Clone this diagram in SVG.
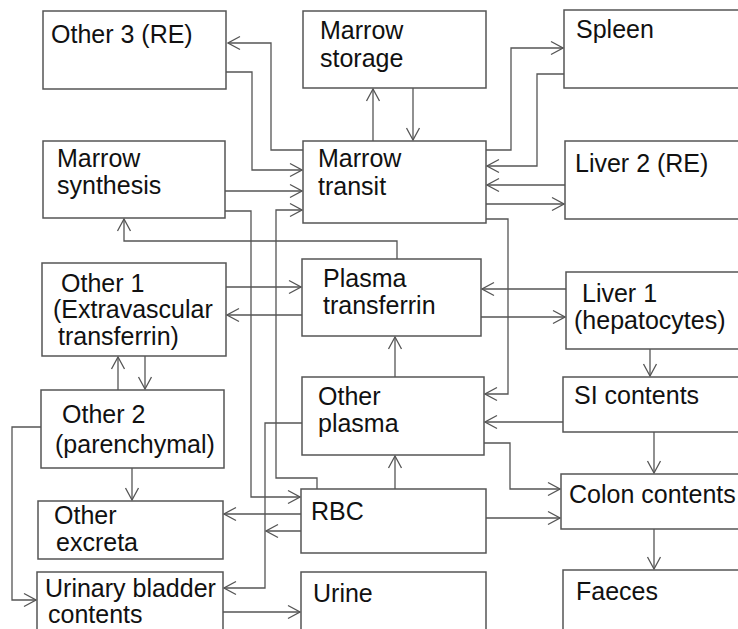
<svg xmlns="http://www.w3.org/2000/svg" width="738" height="629" viewBox="0 0 738 629">
  <style>
    .box { fill: #ffffff; stroke: #555555; stroke-width: 1.5; }
    .lbl { font-family: "Liberation Sans", Arial, sans-serif; font-size: 25px; fill: #111111; }
    .wire { fill: none; stroke: #555555; stroke-width: 1.3; }
    .arr { marker-end: url(#head); }
  </style>
  <defs>
    <marker id="head" viewBox="-13 -8 14 16" refX="0" refY="0" markerWidth="14" markerHeight="16" markerUnits="userSpaceOnUse" orient="auto">
      <path d="M-12,-6.5 L0,0 L-12,6.5" fill="none" stroke="#555555" stroke-width="1.3"/>
    </marker>
  </defs>
  <rect width="738" height="629" fill="#ffffff"/>

  <!-- connectors -->
  <g id="connectors">
    <path class="wire arr" d="M303,150 H271 V43 H228"/>
    <path class="wire arr" d="M226,72 H252 V170 H302"/>
    <path class="wire arr" d="M225,191 H302"/>
    <path class="wire arr" d="M225,211 H251 V497 H300"/>
    <path class="wire arr" d="M317,489 V478 H276 V210 H302"/>
    <path class="wire arr" d="M397,259 V241 H124 V219"/>
    <path class="wire arr" d="M373,141 V89"/>
    <path class="wire arr" d="M413,88 V140"/>
    <path class="wire arr" d="M486,150 H511 V48 H563"/>
    <path class="wire arr" d="M564,74 H537 V166 H487"/>
    <path class="wire arr" d="M565,185 H487"/>
    <path class="wire arr" d="M486,204 H564"/>
    <path class="wire arr" d="M486,219 H508 V394 H485"/>
    <path class="wire arr" d="M226,287 H301"/>
    <path class="wire arr" d="M302,315 H227"/>
    <path class="wire arr" d="M566,289 H482"/>
    <path class="wire arr" d="M481,317 H565"/>
    <path class="wire arr" d="M395,377 V337"/>
    <path class="wire arr" d="M650,349 V376"/>
    <path class="wire arr" d="M563,422 H485"/>
    <path class="wire arr" d="M654,432 V473"/>
    <path class="wire arr" d="M484,443 H510 V489 H560"/>
    <path class="wire arr" d="M486,518 H560"/>
    <path class="wire arr" d="M654,529 V569"/>
    <path class="wire arr" d="M395,489 V456"/>
    <path class="wire arr" d="M301,514 H224"/>
    <path class="wire arr" d="M301,531 H266"/>
    <path class="wire arr" d="M302,423 H265 V588 H224"/>
    <path class="wire arr" d="M223,612 H300"/>
    <path class="wire arr" d="M145,356 V389"/>
    <path class="wire arr" d="M118,390 V357"/>
    <path class="wire arr" d="M132,468 V500"/>
    <path class="wire arr" d="M41,427 H12 V600 H36"/>
  </g>

  <!-- nodes -->
  <g id="other3">
    <rect class="box" x="43" y="11" width="183" height="78"/>
    <text class="lbl" x="51" y="43">Other 3 (RE)</text>
  </g>
  <g id="marrow-storage">
    <rect class="box" x="303" y="11" width="183" height="77"/>
    <text class="lbl" x="320" y="39">Marrow</text>
    <text class="lbl" x="320" y="67">storage</text>
  </g>
  <g id="spleen">
    <rect class="box" x="564" y="10" width="185" height="78"/>
    <text class="lbl" x="576" y="38">Spleen</text>
  </g>
  <g id="marrow-synthesis">
    <rect class="box" x="43" y="141" width="182" height="77"/>
    <text class="lbl" x="57" y="167">Marrow</text>
    <text class="lbl" x="57" y="194">synthesis</text>
  </g>
  <g id="marrow-transit">
    <rect class="box" x="303" y="141" width="183" height="82"/>
    <text class="lbl" x="318" y="167">Marrow</text>
    <text class="lbl" x="318" y="195">transit</text>
  </g>
  <g id="liver2">
    <rect class="box" x="565" y="141" width="185" height="78"/>
    <text class="lbl" x="575" y="172">Liver 2 (RE)</text>
  </g>
  <g id="other1">
    <rect class="box" x="42" y="263" width="184" height="93"/>
    <text class="lbl" x="61" y="292">Other 1</text>
    <text class="lbl" x="53" y="318">(Extravascular</text>
    <text class="lbl" x="58" y="345">transferrin)</text>
  </g>
  <g id="plasma-transferrin">
    <rect class="box" x="302" y="259" width="179" height="77"/>
    <text class="lbl" x="323" y="287">Plasma</text>
    <text class="lbl" x="323" y="314">transferrin</text>
  </g>
  <g id="liver1">
    <rect class="box" x="566" y="272" width="184" height="77"/>
    <text class="lbl" x="582" y="302">Liver 1</text>
    <text class="lbl" x="574" y="329">(hepatocytes)</text>
  </g>
  <g id="other2">
    <rect class="box" x="41" y="390" width="183" height="78"/>
    <text class="lbl" x="62" y="423">Other 2</text>
    <text class="lbl" x="55" y="453">(parenchymal)</text>
  </g>
  <g id="other-plasma">
    <rect class="box" x="302" y="377" width="182" height="78"/>
    <text class="lbl" x="318" y="405">Other</text>
    <text class="lbl" x="318" y="432">plasma</text>
  </g>
  <g id="si-contents">
    <rect class="box" x="563" y="377" width="187" height="55"/>
    <text class="lbl" x="574" y="404">SI contents</text>
  </g>
  <g id="other-excreta">
    <rect class="box" x="38" y="501" width="185" height="58"/>
    <text class="lbl" x="54" y="524">Other</text>
    <text class="lbl" x="56" y="551">excreta</text>
  </g>
  <g id="rbc">
    <rect class="box" x="301" y="489" width="185" height="64"/>
    <text class="lbl" x="311" y="520">RBC</text>
  </g>
  <g id="colon-contents">
    <rect class="box" x="561" y="474" width="189" height="55"/>
    <text class="lbl" x="569" y="503">Colon contents</text>
  </g>
  <g id="urinary-bladder">
    <rect class="box" x="37" y="572" width="186" height="70"/>
    <text class="lbl" x="45" y="597">Urinary bladder</text>
    <text class="lbl" x="48" y="623">contents</text>
  </g>
  <g id="urine">
    <rect class="box" x="301" y="572" width="185" height="70"/>
    <text class="lbl" x="313" y="602">Urine</text>
  </g>
  <g id="faeces">
    <rect class="box" x="563" y="570" width="187" height="72"/>
    <text class="lbl" x="576" y="600">Faeces</text>
  </g>
</svg>
